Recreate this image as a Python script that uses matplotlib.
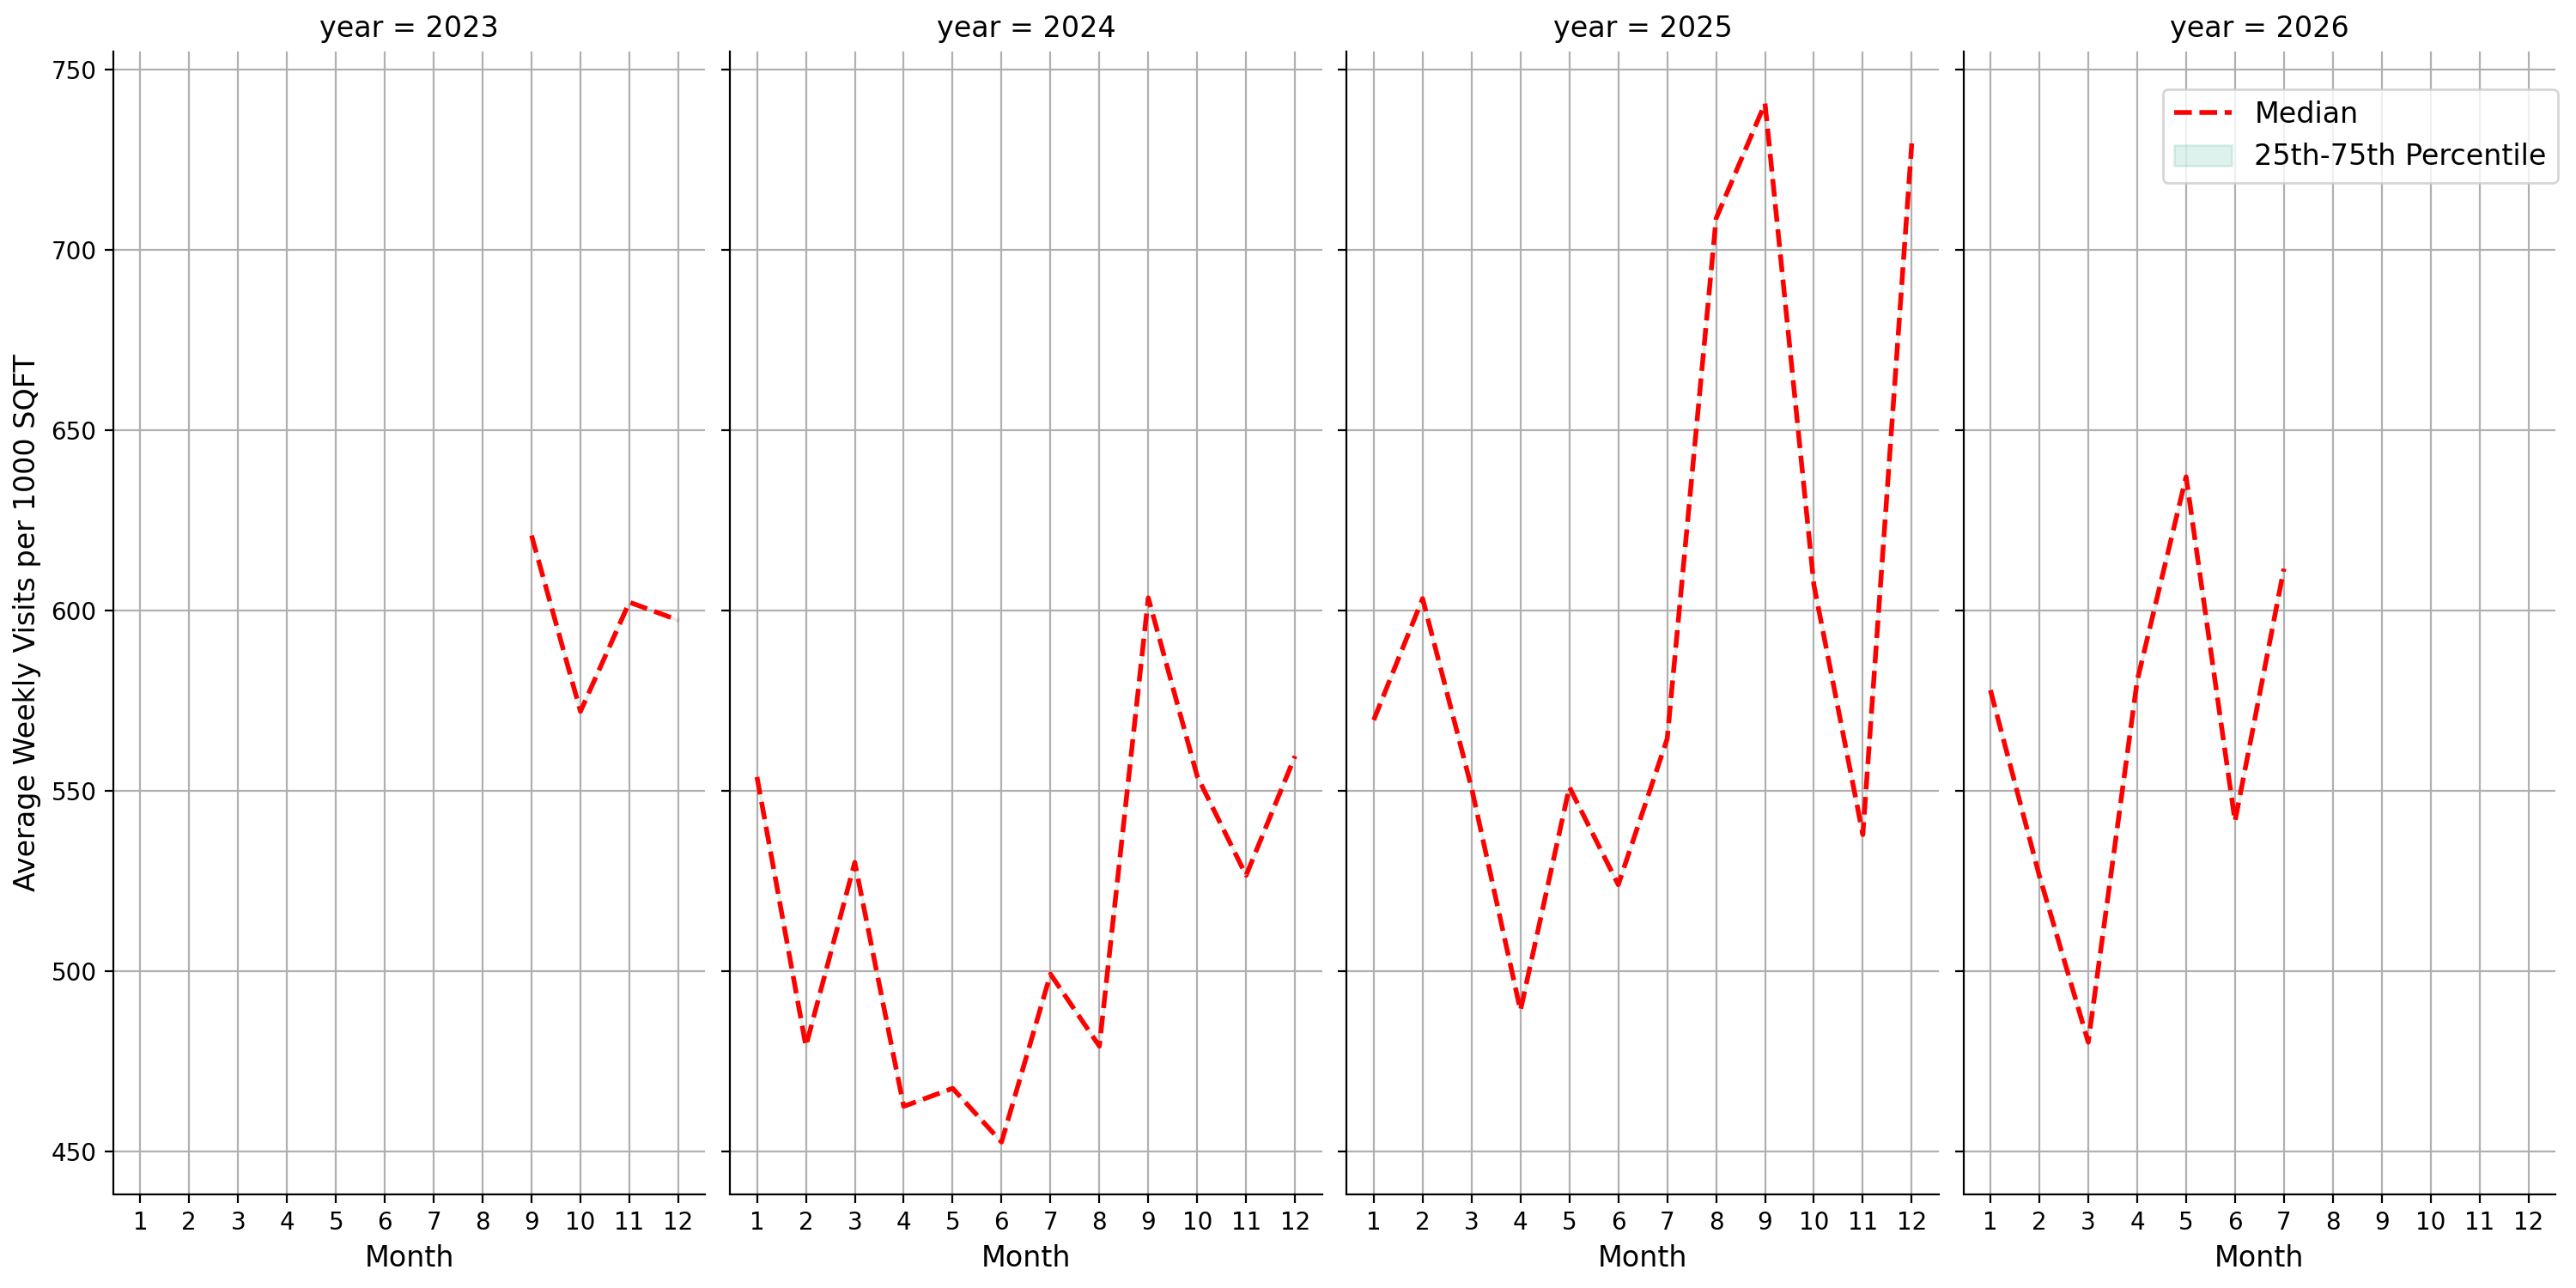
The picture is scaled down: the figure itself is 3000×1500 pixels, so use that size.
import matplotlib.pyplot as plt

# median weekly visits per 1000 sqft, by month, one list per year
years = [2023, 2024, 2025, 2026]
months_2023 = [9, 10, 11, 12]
median_2023 = [620.8, 572.0, 602.3, 597.3]
months_2024 = [1, 2, 3, 4, 5, 6, 7, 8, 9, 10, 11, 12]
median_2024 = [553.8, 479.1, 530.1, 462.4, 467.4, 452.5, 499.1, 479.1, 603.5, 554.0, 526.5, 559.6]
months_2025 = [1, 2, 3, 4, 5, 6, 7, 8, 9, 10, 11, 12]
median_2025 = [569.6, 603.3, 550.8, 489.0, 551.0, 523.9, 564.4, 708.8, 740.7, 607.0, 537.8, 729.6]
months_2026 = [1, 2, 3, 4, 5, 6, 7]
median_2026 = [577.9, 526.4, 480.2, 580.5, 637.1, 541.5, 611.6]

month_ticks = list(range(1, 13))

series = {
    2023: (months_2023, median_2023),
    2024: (months_2024, median_2024),
    2025: (months_2025, median_2025),
    2026: (months_2026, median_2026),
}

fig, axes = plt.subplots(1, 4, figsize=(15, 7.5), dpi=200, sharey=True)
fig.subplots_adjust(left=0.044, right=0.992, bottom=0.073, top=0.960, wspace=0.042)

for ax, year in zip(axes, years):
    months, median = series[year]
    ax.plot(months, median, color='red', linestyle='--', linewidth=2, label='Median')
    # the 25th-75th band collapses onto the median line in this data
    ax.fill_between(months, median, median, color='#5fb9a0', alpha=0.2,
                    label='25th-75th Percentile')
    ax.set_title(f"year = {year}", fontsize=12)
    ax.set_xlabel('Month', fontsize=12)
    ax.set_xticks(month_ticks)
    ax.set_xlim(0.45, 12.55)
    ax.tick_params(labelsize=10)
    ax.grid(True)
    ax.spines['top'].set_visible(False)
    ax.spines['right'].set_visible(False)

axes[0].set_ylabel('Average Weekly Visits per 1000 SQFT', fontsize=12)
axes[3].legend(loc='upper right', fontsize=12, bbox_to_anchor=(0.993, 0.931),
               bbox_transform=fig.transFigure, borderaxespad=0)

plt.savefig('out.png')
